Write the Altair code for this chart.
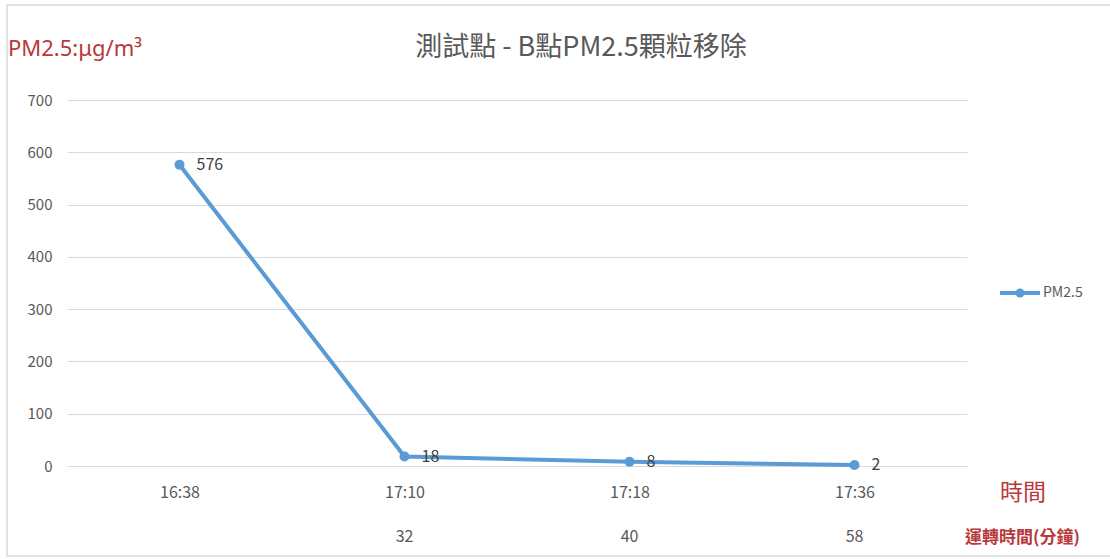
import altair as alt
import pandas as pd

times = ["16:38", "17:10", "17:18", "17:36"]
minutes = ["", "32", "40", "58"]
pm25 = [576, 18, 8, 2]
series_name = "PM2.5"

df = pd.DataFrame({"time": times, "minutes": minutes, "pm": pm25,
                   "lbl": [str(v) for v in pm25]})

FONT = "Noto Sans CJK TC"
GRAY = "#595959"
RED = "#B8383B"
BLUE = "#5B9BD5"

W, H = 900, 366
xenc = alt.X("time:N", sort=times,
             axis=alt.Axis(title=None, labelAngle=0, ticks=False, domain=True,
                           domainColor="#D9D9D9", labelPadding=18, labelFontSize=16,
                           labelColor=GRAY, labelFont=FONT))
yenc = alt.Y("pm:Q", scale=alt.Scale(domain=[0, 700]),
             axis=alt.Axis(title=None, values=list(range(0, 701, 100)), ticks=False,
                           domain=False, gridColor="#D9D9D9", labelPadding=15,
                           labelFontSize=15, labelColor=GRAY, labelFont=FONT))

base = alt.Chart(df)

line = base.mark_line(color=BLUE, strokeWidth=4).encode(x=xenc, y=yenc)
pts = base.mark_circle(color=BLUE, size=100, opacity=1).encode(x=xenc, y=yenc)
labels = base.mark_text(align="left", dx=17, fontSize=16, color="#404040",
                        font=FONT, baseline="middle").encode(x=xenc, y=yenc, text="lbl:N")
mins = base.mark_text(fontSize=16, color=GRAY, font=FONT, baseline="middle").encode(
    x=xenc, y=alt.value(H + 71), text="minutes:N")

title = alt.Chart(pd.DataFrame({"t": ["測試點 - B點PM2.5顆粒移除"]})).mark_text(
    fontSize=27, color=GRAY, font=FONT, baseline="middle").encode(
    x=alt.value(514), y=alt.value(-52), text="t:N")
ytitle = alt.Chart(pd.DataFrame({"t": ["PM2.5:μg/m³"]})).mark_text(
    fontSize=22, color=RED, font="Noto Sans", align="left", baseline="middle").encode(
    x=alt.value(-59), y=alt.value(-51), text="t:N")
xtitle = alt.Chart(pd.DataFrame({"t": ["時間"]})).mark_text(
    fontSize=23, color=RED, font=FONT, align="left", baseline="middle").encode(
    x=alt.value(933), y=alt.value(H + 27), text="t:N")
xtitle2 = alt.Chart(pd.DataFrame({"t": ["運轉時間(分鐘)"]})).mark_text(
    fontSize=17, color=RED, font=FONT, fontWeight="bold", align="left", baseline="middle").encode(
    x=alt.value(898), y=alt.value(H + 72), text="t:N")

leg_line = alt.Chart(pd.DataFrame({"s": [series_name]})).mark_rule(
    color=BLUE, strokeWidth=4).encode(
    x=alt.value(933), x2=alt.value(973), y=alt.value(193))
leg_pt = alt.Chart(pd.DataFrame({"s": [series_name]})).mark_circle(
    color=BLUE, size=80, opacity=1).encode(x=alt.value(953), y=alt.value(193))
leg_txt = alt.Chart(pd.DataFrame({"s": [series_name]})).mark_text(
    fontSize=14, color=GRAY, font=FONT, align="left", baseline="middle").encode(
    x=alt.value(976), y=alt.value(193), text="s:N")

border = alt.Chart(pd.DataFrame({"s": [1]})).mark_rect(
    fill=None, stroke="#D9D9D9", strokeWidth=1.5).encode(
    x=alt.value(-60), x2=alt.value(1060), y=alt.value(-95), y2=alt.value(H + 90))

chart = alt.layer(border, line, pts, labels, mins, title, ytitle, xtitle, xtitle2,
                  leg_line, leg_pt, leg_txt).properties(
    width=W, height=H,
    autosize=alt.AutoSizeParams(type="none"),
    padding={"left": 67, "top": 100, "right": 143, "bottom": 93},
).configure_view(stroke=None).configure_scale(bandPaddingInner=0, bandPaddingOuter=0)

chart.save("out.html", embed_options={"renderer": "svg", "actions": False})
